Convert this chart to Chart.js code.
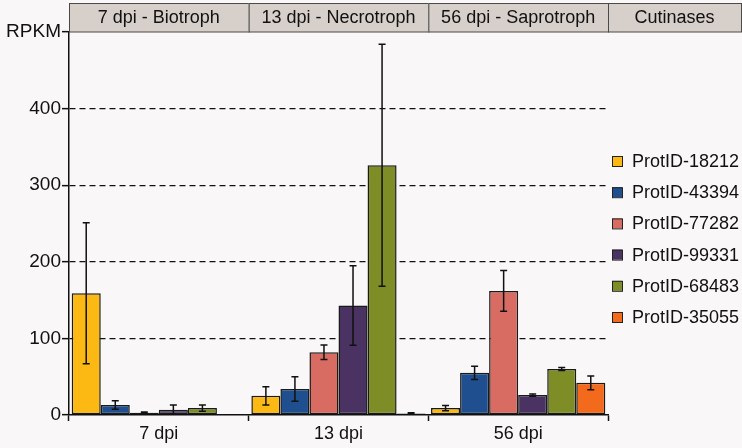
<!DOCTYPE html>
<html lang="en">
  <head>
    <meta charset="utf-8" />
    <title>RPKM of cutinases</title>
    <script src="https://cdn.jsdelivr.net/npm/chart.js@4.4.1/dist/chart.umd.min.js"></script>
    <style>
      * {
        margin: 0;
        padding: 0;
        box-sizing: border-box;
      }
      body {
        background: #f9f7f8;
        width: 742px;
        height: 448px;
        overflow: hidden;
      }
      .wrap {
        position: relative;
        width: 742px;
        height: 448px;
      }
    </style>
  </head>
  <body>
    <div class="wrap">
      <canvas id="chart" width="742" height="448"></canvas>
    </div>

    <script>
      // time points and header captions
      const categories = ["7 dpi", "13 dpi", "56 dpi"];
      const headers = ["7 dpi - Biotroph", "13 dpi - Necrotroph", "56 dpi - Saprotroph", "Cutinases"];

      // one series per protein: mean RPKM and +/- error
      const seriesNames = ["ProtID-18212", "ProtID-43394", "ProtID-77282", "ProtID-99331", "ProtID-68483", "ProtID-35055"];
      const seriesColors = ["#fdb913", "#1f4f8e", "#d96c62", "#4a3262", "#7f8d27", "#f36a1c"];
      const values18212 = [159, 25, 9];
      const values43394 = [13, 34, 55];
      const values77282 = [3, 82, 162];
      const values99331 = [7, 143, 26];
      const values68483 = [9, 326, 60];
      const values35055 = [0, 2, 42];
      const err18212 = [92, 12, 3.5];
      const err43394 = [5.5, 16, 8.5];
      const err77282 = [1, 9.5, 26.5];
      const err99331 = [6, 52, 1.5];
      const err68483 = [4, 158, 2];
      const err35055 = [0, 1, 9];

      const yTicks = [0, 100, 200, 300, 400, 500];
      const yTopLabel = "RPKM";

      const allValues = [values18212, values43394, values77282, values99331, values68483, values35055];
      const allErrors = [err18212, err43394, err77282, err99331, err68483, err35055];

      const FONT = "'Liberation Sans', Arial, sans-serif";
      const INK = "#111";

      // background colour
      const bgPlugin = {
        id: "bg",
        beforeDraw(chart) {
          const ctx = chart.ctx;
          ctx.save();
          ctx.fillStyle = "#f9f7f8";
          ctx.fillRect(0, 0, chart.width, chart.height);
          ctx.restore();
        },
      };

      // error whiskers on top of each bar
      const errorBars = {
        id: "errorBars",
        afterDatasetsDraw(chart) {
          const ctx = chart.ctx;
          const y = chart.scales.y;
          ctx.save();
          ctx.strokeStyle = INK;
          ctx.lineWidth = 1.5;
          chart.data.datasets.forEach((ds, di) => {
            const meta = chart.getDatasetMeta(di);
            meta.data.forEach((bar, i) => {
              const e = allErrors[di][i];
              if (!e) return;
              const v = ds.data[i];
              const top = y.getPixelForValue(v + e);
              const bot = y.getPixelForValue(Math.max(0, v - e));
              const x = bar.x;
              ctx.beginPath();
              ctx.moveTo(x, top);
              ctx.lineTo(x, bot);
              ctx.moveTo(x - 3.5, top);
              ctx.lineTo(x + 3.5, top);
              ctx.moveTo(x - 3.5, bot);
              ctx.lineTo(x + 3.5, bot);
              ctx.stroke();
            });
          });
          ctx.restore();
        },
      };

      // grey header strip plus the legend on the right
      const decorations = {
        id: "decorations",
        afterDraw(chart) {
          const ctx = chart.ctx;
          const area = chart.chartArea;
          const step = (area.right - area.left) / categories.length;
          const edges = [area.left];
          for (let i = 1; i <= categories.length; i++) edges.push(area.left + i * step);
          edges.push(chart.width - 1);

          ctx.save();
          ctx.font = "18px " + FONT;
          ctx.textAlign = "center";
          ctx.textBaseline = "middle";
          headers.forEach((h, i) => {
            const x0 = edges[i];
            const x1 = edges[i + 1];
            ctx.fillStyle = "#d6cfca";
            ctx.fillRect(x0, 3, x1 - x0, area.top - 3);
            ctx.strokeStyle = "#4a4a4a";
            ctx.lineWidth = 1;
            ctx.strokeRect(x0 + 0.5, 3.5, x1 - x0, area.top - 3.5);
            ctx.fillStyle = INK;
            ctx.fillText(h, (x0 + x1) / 2, 18, x1 - x0 - 8);
          });

          // legend
          ctx.textAlign = "left";
          ctx.font = "18px " + FONT;
          seriesNames.forEach((name, i) => {
            const yy = 161 + i * 31.2;
            ctx.fillStyle = seriesColors[i];
            ctx.fillRect(612, yy - 5, 10, 10);
            ctx.strokeStyle = "#222";
            ctx.lineWidth = 1;
            ctx.strokeRect(612.5, yy - 4.5, 10, 10);
            ctx.fillStyle = INK;
            ctx.fillText(name, 632, yy + 1, 108);
          });
          ctx.restore();
        },
      };

      const chart = new Chart(document.getElementById("chart"), {
        type: "bar",
        data: {
          labels: categories,
          datasets: seriesNames.map((name, i) => ({
            label: name,
            data: allValues[i],
            backgroundColor: seriesColors[i],
            borderColor: "#1a1a1a",
            borderWidth: 1.5,
            borderSkipped: false,
            categoryPercentage: 0.97,
            barPercentage: 1.0,
          })),
        },
        options: {
          responsive: false,
          animation: false,
          devicePixelRatio: 1,
          layout: { padding: { top: 32, right: 134, left: 0, bottom: 0 } },
          plugins: {
            legend: { display: false },
            tooltip: { enabled: false },
          },
          scales: {
            x: {
              offset: true,
              grid: {
                display: true,
                offset: true,
                drawOnChartArea: false,
                tickLength: 6,
                tickColor: INK,
                tickWidth: 1.5,
              },
              border: { display: true, color: INK, width: 1.5 },
              ticks: {
                color: INK,
                font: { family: FONT, size: 18 },
                padding: 2,
              },
              afterFit(scale) {
                scale.height = 33;
              },
            },
            y: {
              min: 0,
              max: 500,
              afterBuildTicks(scale) {
                scale.ticks = yTicks.map((v) => ({ value: v }));
              },
              grid: {
                color: (c) => (c.tick && (c.tick.value === 0 || c.tick.value === 500) ? "rgba(0,0,0,0)" : INK),
                lineWidth: 1.3,
                tickLength: 7,
                tickColor: INK,
                tickWidth: 1.5,
              },
              border: { display: true, color: INK, width: 1.5, dash: [6, 4] },
              ticks: {
                color: INK,
                font: { family: FONT, size: 19 },
                padding: 1,
                callback: (v) => (v === 500 ? yTopLabel : v),
              },
              afterFit(scale) {
                scale.width = 69;
              },
            },
          },
        },
        plugins: [bgPlugin, errorBars, decorations],
      });
    </script>
  </body>
</html>
